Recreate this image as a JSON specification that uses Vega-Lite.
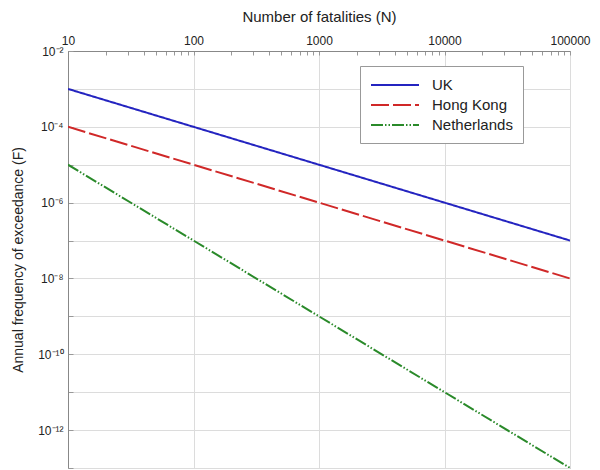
{
  "$schema": "https://vega.github.io/schema/vega-lite/v6.json",
  "width": 502,
  "height": 417,
  "autosize": {"type": "none"},
  "padding": {"left": 68, "top": 51, "right": 30, "bottom": 2},
  "background": "white",
  "config": {
    "font": "Liberation Sans",
    "view": {"stroke": "#999999", "strokeWidth": 1},
    "axis": {"grid": true, "gridColor": "#dcdcdc", "gridWidth": 1, "domainColor": "#888888", "tickColor": "#999999", "labelColor": "#222222", "titleColor": "#222222", "titleFontWeight": "normal"}
  },
  "data": {
    "values": [
      {"N": 10, "F": 1e-3, "country": "UK"},
      {"N": 100, "F": 1e-4, "country": "UK"},
      {"N": 1000, "F": 1e-5, "country": "UK"},
      {"N": 10000, "F": 1e-6, "country": "UK"},
      {"N": 100000, "F": 1e-7, "country": "UK"},
      {"N": 10, "F": 1e-4, "country": "Hong Kong"},
      {"N": 100, "F": 1e-5, "country": "Hong Kong"},
      {"N": 1000, "F": 1e-6, "country": "Hong Kong"},
      {"N": 10000, "F": 1e-7, "country": "Hong Kong"},
      {"N": 100000, "F": 1e-8, "country": "Hong Kong"},
      {"N": 10, "F": 1e-5, "country": "Netherlands"},
      {"N": 100, "F": 1e-7, "country": "Netherlands"},
      {"N": 1000, "F": 1e-9, "country": "Netherlands"},
      {"N": 10000, "F": 1e-11, "country": "Netherlands"},
      {"N": 100000, "F": 1e-13, "country": "Netherlands"}
    ]
  },
  "mark": {"type": "line", "strokeWidth": 2, "clip": true},
  "encoding": {
    "x": {
      "field": "N", "type": "quantitative",
      "scale": {"type": "log", "domain": [10, 100000], "nice": false},
      "axis": {
        "orient": "top",
        "grid": true,
        "title": "Number of fatalities (N)",
        "titleFontSize": 15,
        "titlePadding": 10,
        "labelFontSize": 12,
        "labelPadding": 8,
        "labelFlush": false,
        "values": [10,20,30,40,50,60,70,80,90,100,200,300,400,500,600,700,800,900,1000,2000,3000,4000,5000,6000,7000,8000,9000,10000,20000,30000,40000,50000,60000,70000,80000,90000,100000],
        "labelExpr": "abs(log(datum.value)/LN10 - round(log(datum.value)/LN10)) < 0.01 ? format(datum.value, 'd') : ''",
        "tickSize": -4,
        "gridOpacity": {"condition": {"test": "abs(log(datum.value)/LN10 - round(log(datum.value)/LN10)) < 0.01", "value": 1}, "value": 0}
      }
    },
    "y": {
      "field": "F", "type": "quantitative",
      "scale": {"type": "log", "domain": [1e-13, 1e-2], "nice": false},
      "axis": {
        "grid": true,
        "title": "Annual frequency of exceedance (F)",
        "titleFontSize": 14,
        "titlePadding": 12,
        "labelFontSize": 12,
        "labelPadding": 10,
        "tickSize": -5,
        "labelFlush": false,
        "values": [1e-2,1e-3,1e-4,1e-5,1e-6,1e-7,1e-8,1e-9,1e-10,1e-11,1e-12,1e-13],
        "labelExpr": "round(log(datum.value)/LN10) == -2 ? '10⁻²' : round(log(datum.value)/LN10) == -4 ? '10⁻⁴' : round(log(datum.value)/LN10) == -6 ? '10⁻⁶' : round(log(datum.value)/LN10) == -8 ? '10⁻⁸' : round(log(datum.value)/LN10) == -10 ? '10⁻¹⁰' : round(log(datum.value)/LN10) == -12 ? '10⁻¹²' : ''"
      }
    },
    "color": {
      "field": "country", "type": "nominal",
      "scale": {"domain": ["UK", "Hong Kong", "Netherlands"], "range": ["#2424c0", "#d02828", "#2a8a2a"]},
      "legend": {
        "title": null,
        "orient": "none",
        "legendX": 292,
        "legendY": 15,
        "strokeColor": "#999999",
        "fillColor": "white",
        "padding": 10,
        "symbolType": "M-3,0H3",
        "symbolSize": 256,
        "symbolOffset": 16,
        "labelOffset": 28,
        "symbolStrokeWidth": 2,
        "labelFontSize": 15,
        "labelColor": "#222222",
        "rowPadding": 3
      }
    },
    "strokeDash": {
      "field": "country", "type": "nominal",
      "scale": {"domain": ["UK", "Hong Kong", "Netherlands"], "range": [[1, 0], [18, 4], [12, 2, 1.5, 2, 1.5, 2]]},
      "legend": null
    }
  }
}
